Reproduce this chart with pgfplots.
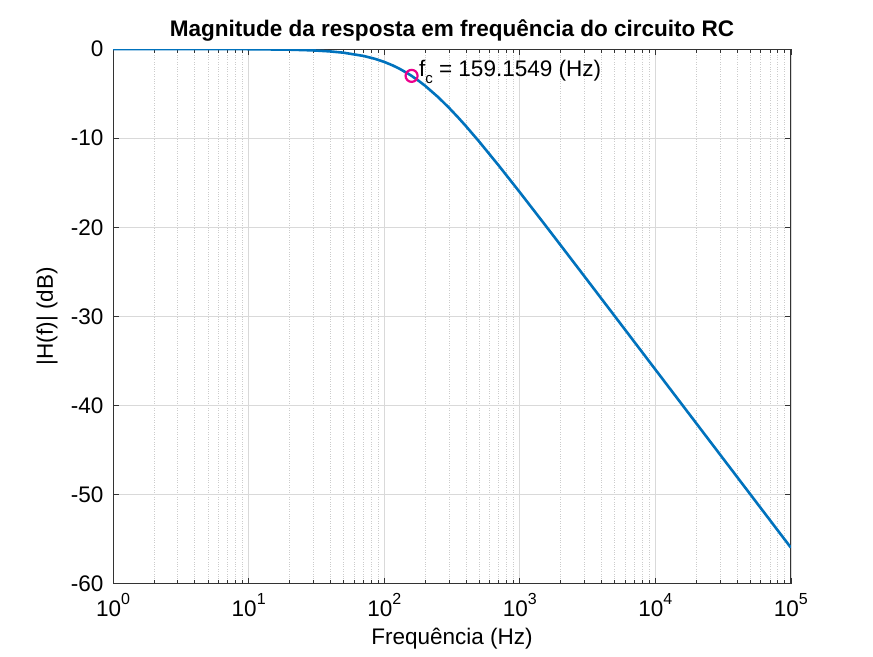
\documentclass[border=0pt]{standalone}
\usepackage{pgfplots}
\pgfplotsset{compat=1.18}
\usepackage{fontspec}
\setmainfont{Liberation Sans}

\definecolor{mblue}{RGB}{0,114,189}
\newcommand{\ep}[1]{10\raisebox{0.55em}{\fontsize{16}{16}\selectfont #1}}

\begin{document}
\begin{tikzpicture}
\fontsize{22.5}{26}\selectfont
\begin{axis}[
  name=ax,
  xmode=log,
  scale only axis,
  width=677pt, height=534pt,
  xmin=1, xmax=100000,
  ymin=-60, ymax=0,
  xtick={1,10,100,1000,10000,100000},
  xticklabels={\ep{0},\ep{1},\ep{2},\ep{3},\ep{4},\ep{5}},
  ytick={-60,-50,-40,-30,-20,-10,0},
  yticklabels={-60,-50,-40,-30,-20,-10,0},
  tick align=inside,
  major tick length=6pt, minor tick length=4pt,
  tick style={black!80, line width=0.7pt},
  grid=both,
  major grid style={gray!30, line width=0.7pt},
  minor grid style={gray!40, dotted, line width=0.7pt},
  axis line style={black!80, line width=0.9pt},
  xticklabel style={font=\fontsize{22.5}{26}\selectfont, yshift=-2pt},
  yticklabel style={font=\fontsize{22.5}{26}\selectfont, xshift=-2pt},
  xlabel={Frequência (Hz)},
  ylabel={|H(f)| (dB)},
  label style={font=\fontsize{22.5}{26}\selectfont},
  xlabel style={yshift=4pt},
  ylabel style={yshift=-2pt},
  title={\bfseries Magnitude da resposta em frequência do circuito RC},
  title style={font=\fontsize{22.5}{26}\selectfont, yshift=-6pt},
  clip=true,
]
\addplot[mblue, line width=2.6pt] coordinates {
  (1,-0.0002) (2,-0.0007) (5,-0.0043) (10,-0.0171) (20,-0.0680)
  (30,-0.1516) (40,-0.2660) (50,-0.4088) (70,-0.7680) (85,-1.0901)
  (100,-1.4451) (115,-1.8245) (130,-2.2198) (150,-2.7606) (159.1549,-3.0103)
  (180,-3.5777) (200,-4.1150) (250,-5.4000) (300,-6.5830) (350,-7.6612)
  (400,-8.6430) (500,-10.3621) (700,-13.0845) (1000,-16.0723) (1500,-19.534)
  (2000,-22.0116) (3000,-25.518) (5000,-29.9475) (10000,-35.9648)
  (20000,-41.9845) (50000,-49.943) (100000,-55.9636)
};
\addplot[only marks, mark=o, mark size=6pt, magenta, line width=2.2pt]
  coordinates {(159.1549,-3.0103)};
\node[anchor=west, inner sep=0pt, font=\fontsize{22.5}{26}\selectfont]
  at (axis cs:180,-2.6) {f\raisebox{-0.3em}{\fontsize{15}{15}\selectfont c} = 159.1549 (Hz)};
\end{axis}
\path ([shift={(-113pt,-72pt)}]ax.south west) rectangle ([shift={(82pt,49pt)}]ax.north east);
\end{tikzpicture}
\end{document}
